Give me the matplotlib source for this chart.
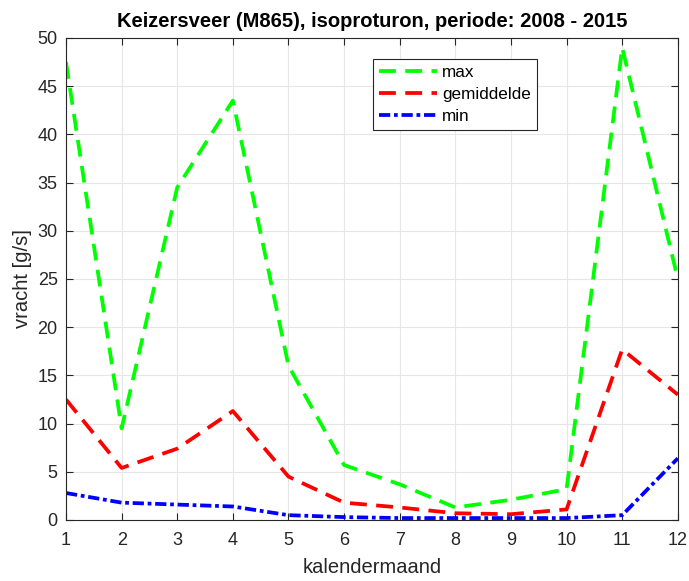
import matplotlib.pyplot as plt
import numpy as np

maanden = np.arange(1, 13)
vracht_max = [47.5, 9.5, 34.5, 43.5, 16.0, 5.7, 3.7, 1.3, 2.1, 3.2, 49.0, 25.0]
vracht_gem = [12.5, 5.4, 7.4, 11.3, 4.5, 1.8, 1.3, 0.7, 0.6, 1.1, 17.7, 13.0]
vracht_min = [2.8, 1.8, 1.6, 1.4, 0.5, 0.3, 0.2, 0.2, 0.2, 0.2, 0.5, 6.4]

plt.rcParams['font.family'] = ['Liberation Sans', 'DejaVu Sans']

fig = plt.figure(figsize=(6.89, 5.81), dpi=100)
ax = fig.add_axes([0.0958, 0.105, 0.888, 0.8296])

ax.plot(maanden, vracht_max, color='#00ff00', lw=2.7, ls=(0, (4.5, 2.5)), label='max')
ax.plot(maanden, vracht_gem, color='#ff0000', lw=2.7, ls=(0, (4.5, 2.5)), label='gemiddelde')
ax.plot(maanden, vracht_min, color='#0000ff', lw=2.7, ls=(0, (3, 1, 1, 1)), label='min')

ax.set_xlim(1, 12)
ax.set_ylim(0, 50)
ax.set_xticks(maanden)
ax.set_yticks(np.arange(0, 51, 5))
ax.grid(True, color='#e6e6e6', lw=0.8)
ax.set_axisbelow(True)
ax.tick_params(direction='in', top=True, right=True, labelsize=13, colors='#262626', length=5)
ax.tick_params(axis='x', pad=9)
ax.tick_params(axis='y', pad=6)
for s in ax.spines.values():
    s.set_color('#262626')
    s.set_linewidth(0.8)

ax.set_xlabel('kalendermaand', fontsize=14.5, color='#262626', labelpad=6)
ax.set_ylabel('vracht [g/s]', fontsize=14.5, color='#262626', labelpad=4)
ax.set_title('Keizersveer (M865), isoproturon, periode: 2008 - 2015', fontsize=14.5, fontweight='bold', pad=8)

leg = ax.legend(loc='upper left', bbox_to_anchor=(0.5016, 0.956), fontsize=12.3, fancybox=False,
                edgecolor='#262626', framealpha=1, handlelength=3.4, borderpad=0.35, labelspacing=0.4,
                handletextpad=0.3, borderaxespad=0)
leg.get_frame().set_linewidth(0.8)

fig.savefig('out.png', dpi=100)
